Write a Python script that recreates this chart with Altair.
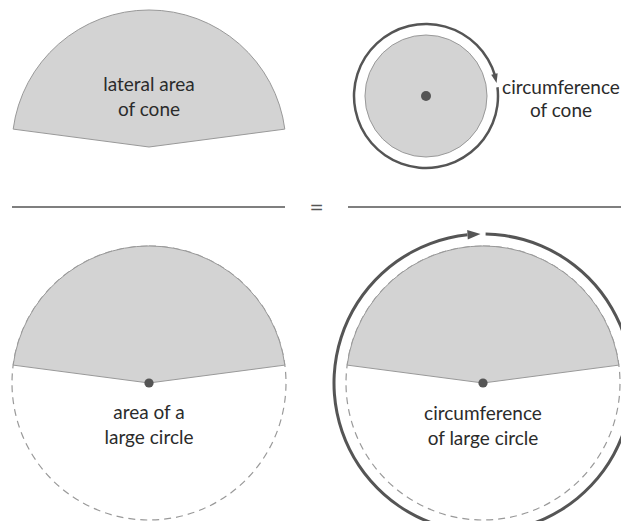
import math
import altair as alt
import pandas as pd

# ---- diagram values (image pixel coordinates, y downward) ----
sector_cx = [149, 149, 483]
sector_cy = [147, 383, 383]
sector_radius = 137
sector_half_angle = 82.5          # degrees each side of 12 o'clock

dashed_cx = [149, 483]
dashed_cy = [383, 383]

cone_cx, cone_cy = 426, 96
cone_radius = 61
cone_ring_radius = 72
cone_ring_from, cone_ring_to = 83, 434     # degrees, clockwise from top

big_ring_radius = 149
big_ring_from, big_ring_to = 1, 354

dot_x = [426, 149, 483]
dot_y = [96, 383, 383]

arrow_x = [495.5, 474]
arrow_y = [78.5, 234.3]
arrow_angle = [76.5, 356.5]

rule_x = [12, 348]
rule_x2 = [285, 621]
rule_y = [207, 207]

label_text = ["lateral area", "of cone", "circumference", "of cone",
              "area of a", "large circle", "circumference", "of large circle"]
label_x = [149, 149, 561, 561, 149, 149, 483, 483]
label_y = [91, 116, 94, 117, 419, 444, 420, 445]

GRAY_FILL = "#d3d3d3"
GRAY_LINE = "#999999"
DARK = "#555555"
TEXT = "#2b2b2b"

XS = alt.Scale(domain=[8, 621], nice=False, zero=False)
YS = alt.Scale(domain=[8, 521], nice=False, zero=False, reverse=True)


def X(f="x"):
    return alt.X(f, type="quantitative", scale=XS, axis=None)


def Y(f="y"):
    return alt.Y(f, type="quantitative", scale=YS, axis=None)


def rad(d):
    return d * math.pi / 180.0


def arc_enc():
    return dict(
        x=X(), y=Y(),
        theta=alt.Theta("t0", type="quantitative", scale=None, stack=False),
        theta2=alt.Theta2("t1"),
        radius=alt.Radius("r0", type="quantitative", scale=None),
        radius2=alt.Radius2("r1"),
    )


# dashed full circles
dashed_df = pd.DataFrame({"x": dashed_cx, "y": dashed_cy, "t0": 0.0, "t1": 2 * math.pi,
                          "r0": sector_radius, "r1": 0})
dashed = alt.Chart(dashed_df).mark_arc(
    fill="transparent", stroke=GRAY_LINE, strokeWidth=1.2, strokeDash=[7, 5]
).encode(**arc_enc())

# gray sectors
sec_df = pd.DataFrame({"x": sector_cx, "y": sector_cy,
                       "t0": rad(360 - sector_half_angle), "t1": rad(360 + sector_half_angle),
                       "r0": sector_radius, "r1": 0})
sectors = alt.Chart(sec_df).mark_arc(
    fill=GRAY_FILL, stroke=GRAY_LINE, strokeWidth=1
).encode(**arc_enc())

# cone base circle
base_df = pd.DataFrame({"x": [cone_cx], "y": [cone_cy], "t0": [0.0], "t1": [2 * math.pi],
                        "r0": [cone_radius], "r1": [0]})
base = alt.Chart(base_df).mark_arc(
    fill=GRAY_FILL, stroke=GRAY_LINE, strokeWidth=1
).encode(**arc_enc())

# thick rings with gaps
ring_df = pd.DataFrame({
    "x": [cone_cx, 483], "y": [cone_cy, 383],
    "t0": [rad(cone_ring_from), rad(big_ring_from)],
    "t1": [rad(cone_ring_to), rad(big_ring_to)],
    "r0": [cone_ring_radius + 1.25, big_ring_radius + 1.5],
    "r1": [cone_ring_radius - 1.25, big_ring_radius - 1.5],
})
rings = alt.Chart(ring_df).mark_arc(fill=DARK, strokeWidth=0).encode(**arc_enc())

# arrowheads
arrow_df = pd.DataFrame({"x": arrow_x, "y": arrow_y, "a": arrow_angle, "s": [85, 170]})
arrows = alt.Chart(arrow_df).mark_point(
    shape="M-1,-0.72 L1,0 L-1,0.72 Z", filled=True, fill=DARK, opacity=1, strokeWidth=0
).encode(
    x=X(), y=Y(),
    angle=alt.Angle("a", type="quantitative", scale=None),
    size=alt.Size("s", type="quantitative", scale=None),
)

# center dots
dot_df = pd.DataFrame({"x": dot_x, "y": dot_y, "s": [100, 85, 85]})
dots = alt.Chart(dot_df).mark_point(
    shape="circle", filled=True, fill=DARK, opacity=1, strokeWidth=0
).encode(x=X(), y=Y(), size=alt.Size("s", type="quantitative", scale=None))

# fraction rules and equals sign
rule_df = pd.DataFrame({"x": rule_x, "x2": rule_x2, "y": rule_y})
rules = alt.Chart(rule_df).mark_rule(color=DARK, strokeWidth=1.5).encode(
    x=X(), x2=alt.X2("x2"), y=Y()
)
eq_df = pd.DataFrame({"x": [316.5], "y": [213], "t": ["="]})
eq = alt.Chart(eq_df).mark_text(
    font="DejaVu Sans", fontSize=17, color=DARK, align="center", baseline="alphabetic"
).encode(x=X(), y=Y(), text="t:N")

# labels
lab_df = pd.DataFrame({"x": label_x, "y": label_y, "t": label_text})
labels = alt.Chart(lab_df).mark_text(
    font="Lato", fontSize=19, color=TEXT, align="center", baseline="alphabetic"
).encode(x=X(), y=Y(), text="t:N")

chart = alt.layer(dashed, sectors, base, rings, arrows, dots, rules, eq, labels).properties(
    width=613, height=513,
    autosize=alt.AutoSizeParams(type="none"),
    padding=0,
    background="white",
).configure_view(stroke=None)

chart.save("out.html", embed_options={"renderer": "svg", "actions": False})
